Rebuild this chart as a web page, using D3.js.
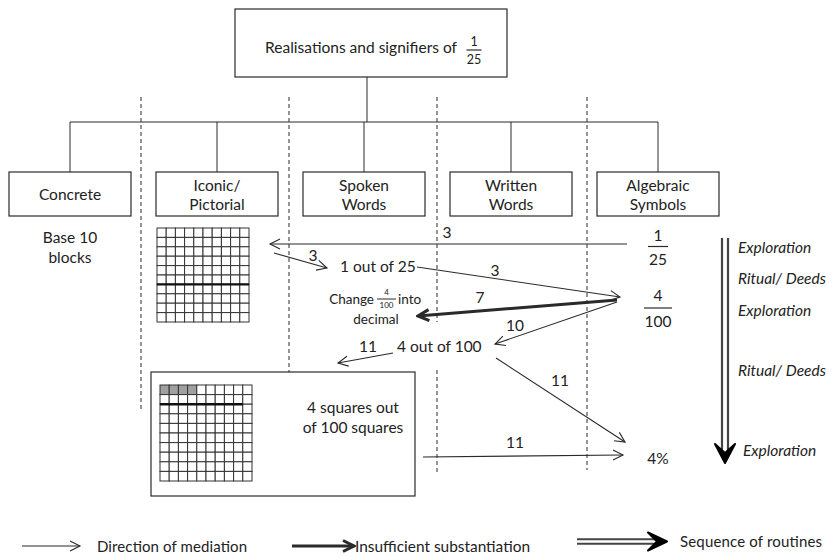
<!DOCTYPE html>
<html><head><meta charset="utf-8">
<script src="https://cdn.jsdelivr.net/npm/d3@7"></script>
<style>
html,body{margin:0;padding:0;background:#fff}
svg{display:block}
text{font-family:Lato,"Open Sans",sans-serif;fill:#222}
</style>
</head><body>
<svg id="c" width="833" height="557"></svg>
<script>
// ---------- data ----------
const title = "Realisations and signifiers of";
const titleFraction = ["1", "25"];
const columns = ["Concrete", "Iconic/\nPictorial", "Spoken\nWords", "Written\nWords", "Algebraic\nSymbols"];
const concreteNote = ["Base 10", "blocks"];
const routines = ["Exploration", "Ritual/ Deeds", "Exploration", "Ritual/ Deeds", "Exploration"];
const mediationLabels = ["3", "3", "3", "7", "10", "11", "11", "11"];
const mediationKinds = ["thin", "thin", "thin", "thick", "thin", "thin", "thin", "thin"];
const fractionsAlg = [["1", "25"], ["4", "100"]];
const wordsSpoken = ["1 out of 25", "4 out of 100"];
const changeText = ["Change", "4", "100", "into", "decimal"];
const squaresText = ["4 squares out", "of 100 squares"];
const percentText = "4%";
const gridSize = 10;
const shadedSquares = 4;
const legendLabels = ["Direction of mediation", "Insufficient substantiation", "Sequence of routines"];

// ---------- layout ----------
const svg = d3.select("#c");
const W = 833, H = 557;
const ink = "#2a2a2a";
const x = d3.scalePoint().domain(columns).range([70, 658]);
const step = x.step();
const y = d3.scaleLinear().domain([0, H]).range([0, H]);
const boxW = 122, boxTop = y(172), boxBot = y(216);

const defs = svg.append("defs");
function marker(id, path, w, sw, fill) {
  defs.append("marker").attr("id", id).attr("markerUnits", "userSpaceOnUse")
    .attr("viewBox", `-2 -2 ${w + 4} ${w + 4}`).attr("refX", w).attr("refY", w / 2)
    .attr("markerWidth", w + 4).attr("markerHeight", w + 4).attr("orient", "auto")
    .append("path").attr("d", path).attr("fill", fill).attr("stroke", ink)
    .attr("stroke-width", sw).attr("stroke-linejoin", "miter");
}
marker("thin", "M0,0 L10,5 L0,10", 10, 1.1, "none");
marker("thick", "M0,0 L11,5.5 L0,11", 11, 3, "none");

// title box
svg.append("rect").attr("x", 235).attr("y", y(9)).attr("width", 272).attr("height", y(77) - y(9))
  .attr("fill", "none").attr("stroke", ink).attr("stroke-width", 1.2);
svg.append("text").attr("x", 265).attr("y", y(47)).attr("textLength", 192)
  .attr("dominant-baseline", "central").attr("font-size", 15.5).text(title);
function fraction(cx, cy, num, den, size, lw, gap) {
  svg.append("text").attr("x", cx).attr("y", cy - gap).attr("text-anchor", "middle")
    .attr("dominant-baseline", "central").attr("font-size", size).text(num);
  svg.append("line").attr("x1", cx - lw / 2).attr("x2", cx + lw / 2).attr("y1", cy).attr("y2", cy)
    .attr("stroke", ink).attr("stroke-width", 1.2);
  svg.append("text").attr("x", cx).attr("y", cy + gap).attr("text-anchor", "middle")
    .attr("dominant-baseline", "central").attr("font-size", size).text(den);
}
fraction(474, y(50), titleFraction[0], titleFraction[1], 12.5, 15, 9);

// tree connectors
const treeY = y(122);
svg.append("line").attr("x1", 367).attr("x2", 367).attr("y1", y(77)).attr("y2", treeY).attr("stroke", ink);
svg.append("line").attr("x1", x(columns[0])).attr("x2", x(columns[4])).attr("y1", treeY).attr("y2", treeY).attr("stroke", ink);
columns.forEach(c => {
  svg.append("line").attr("x1", x(c)).attr("x2", x(c)).attr("y1", treeY).attr("y2", boxTop).attr("stroke", ink);
});

// column boxes
columns.forEach(c => {
  const cx = x(c);
  svg.append("rect").attr("x", cx - boxW / 2).attr("y", boxTop).attr("width", boxW).attr("height", boxBot - boxTop)
    .attr("fill", "#fff").attr("stroke", ink).attr("stroke-width", 1.2);
  const lines = c.split("\n");
  lines.forEach((l, i) => {
    svg.append("text").attr("x", cx).attr("y", (boxTop + boxBot) / 2 + (i - (lines.length - 1) / 2) * 19)
      .attr("text-anchor", "middle").attr("dominant-baseline", "central").attr("font-size", 15.5).text(l);
  });
});

// dashed separators
const sepX = columns.slice(0, 4).map((c, i) => x(c) + step / 2 + [-2.5, -1.5, -0.5, 2.5][i]);
const sepRanges = [[[97, 410]], [[97, 372]], [[97, 322], [370, 473]], [[97, 470]]];
sepX.forEach((sx, i) => {
  sepRanges[i].forEach(r => {
    svg.append("line").attr("x1", sx).attr("x2", sx).attr("y1", y(r[0])).attr("y2", y(r[1]))
      .attr("stroke", ink).attr("stroke-width", 1).attr("stroke-dasharray", "4,3");
  });
});

// concrete note
concreteNote.forEach((t, i) => {
  svg.append("text").attr("x", x(columns[0])).attr("y", y(237 + i * 20)).attr("text-anchor", "middle")
    .attr("dominant-baseline", "central").attr("font-size", 15.5).text(t);
});

// grids
function grid(gx, gy, cw, ch, thick) {
  const g = svg.append("g");
  const cells = d3.range(gridSize * gridSize).map(i => ({r: Math.floor(i / gridSize), c: i % gridSize}));
  g.selectAll("rect").data(cells).enter().append("rect")
    .attr("x", d => gx + d.c * cw).attr("y", d => gy + d.r * ch).attr("width", cw).attr("height", ch)
    .attr("fill", d => (thick.shade && d.r === 0 && d.c < shadedSquares) ? "#a0a0a0" : "#fff")
    .attr("stroke", "#333").attr("stroke-width", 1);
  g.append("line").attr("x1", gx).attr("x2", gx + thick.cols * cw)
    .attr("y1", gy + thick.row * ch).attr("y2", gy + thick.row * ch).attr("stroke", "#111").attr("stroke-width", 2.4);
}
grid(157, y(228), 9.2, 9.4, {row: 6, cols: 10, shade: false});

// bottom box
svg.append("rect").attr("x", 151).attr("y", y(372)).attr("width", 264).attr("height", y(496) - y(372))
  .attr("fill", "none").attr("stroke", ink).attr("stroke-width", 1.2);
grid(160, y(385), 9.2, 9.6, {row: 2, cols: 9, shade: true});
squaresText.forEach((t, i) => {
  svg.append("text").attr("x", 353).attr("y", y(407 + i * 20)).attr("text-anchor", "middle")
    .attr("dominant-baseline", "central").attr("font-size", 15.5).text(t);
});

// algebraic symbols
const alg = x(columns[4]);
fraction(alg, y(246.5), fractionsAlg[0][0], fractionsAlg[0][1], 15.5, 20, 12);
fraction(alg, y(308), fractionsAlg[1][0], fractionsAlg[1][1], 15.5, 28, 13);
svg.append("text").attr("x", alg).attr("y", y(458)).attr("text-anchor", "middle")
  .attr("dominant-baseline", "central").attr("font-size", 15.5).text(percentText);

// spoken words
svg.append("text").attr("x", 340).attr("y", y(266)).attr("dominant-baseline", "central").attr("font-size", 15.5).text(wordsSpoken[0]);
svg.append("text").attr("x", 397).attr("y", y(346)).attr("dominant-baseline", "central").attr("font-size", 15.5).text(wordsSpoken[1]);

// change into decimal
svg.append("text").attr("x", 374).attr("y", y(299)).attr("text-anchor", "end").attr("dominant-baseline", "central").attr("font-size", 13.5).text(changeText[0]);
svg.append("text").attr("x", 386.5).attr("y", y(292)).attr("text-anchor", "middle").attr("dominant-baseline", "central").attr("font-size", 8).text(changeText[1]);
svg.append("line").attr("x1", 377).attr("x2", 396).attr("y1", y(299)).attr("y2", y(299)).attr("stroke", ink).attr("stroke-width", 1);
svg.append("text").attr("x", 386.5).attr("y", y(305)).attr("text-anchor", "middle").attr("dominant-baseline", "central").attr("font-size", 8).text(changeText[2]);
svg.append("text").attr("x", 398).attr("y", y(299)).attr("dominant-baseline", "central").attr("font-size", 13.5).text(changeText[3]);
svg.append("text").attr("x", 376).attr("y", y(319)).attr("text-anchor", "middle").attr("dominant-baseline", "central").attr("font-size", 13.5).text(changeText[4]);

// mediation arrows
const arrowGeom = [
  {a: [627, 244], b: [270, 244], l: [447, 232]},
  {a: [274, 253], b: [327, 268], l: [313, 255]},
  {a: [417, 267], b: [620, 297], l: [495, 270]},
  {a: [617, 300], b: [418, 316], l: [480, 297]},
  {a: [617, 302], b: [495, 344], l: [515, 325]},
  {a: [393, 353], b: [338, 363], l: [368, 346]},
  {a: [496, 358], b: [625, 442], l: [560, 380]},
  {a: [423, 457], b: [623, 455], l: [515, 442]}
];
const arrows = mediationLabels.map((lab, i) => ({label: lab, kind: mediationKinds[i], ...arrowGeom[i]}));
svg.selectAll(".arr").data(arrows).enter().append("line").attr("class", "arr")
  .attr("x1", d => d.a[0]).attr("y1", d => y(d.a[1])).attr("x2", d => d.b[0]).attr("y2", d => y(d.b[1]))
  .attr("stroke", ink).attr("stroke-width", d => d.kind === "thick" ? 3 : 1.1)
  .attr("marker-end", d => `url(#${d.kind})`);
svg.selectAll(".alab").data(arrows).enter().append("text").attr("class", "alab")
  .attr("x", d => d.l[0]).attr("y", d => y(d.l[1])).attr("text-anchor", "middle")
  .attr("dominant-baseline", "central").attr("font-size", 15.5).text(d => d.label);

// sequence of routines (double arrow)
function doubleArrow(g, xc, y1, y2, horiz) {
  if (!horiz) {
    g.append("line").attr("x1", xc - 3).attr("x2", xc - 3).attr("y1", y1).attr("y2", y2 - 8).attr("stroke", "#444").attr("stroke-width", 2.2);
    g.append("line").attr("x1", xc + 3).attr("x2", xc + 3).attr("y1", y1).attr("y2", y2 - 8).attr("stroke", "#444").attr("stroke-width", 2.2);
    g.append("path").attr("d", `M${xc - 10},${y2 - 19} L${xc},${y2} L${xc + 10},${y2 - 19} L${xc},${y2 - 10} Z`)
      .attr("fill", "#000").attr("stroke", "#000").attr("stroke-width", 2).attr("stroke-linejoin", "round");
  } else {
    g.append("line").attr("x1", y1).attr("x2", y2 - 8).attr("y1", xc - 2.2).attr("y2", xc - 2.2).attr("stroke", "#444").attr("stroke-width", 2);
    g.append("line").attr("x1", y1).attr("x2", y2 - 8).attr("y1", xc + 2.2).attr("y2", xc + 2.2).attr("stroke", "#444").attr("stroke-width", 2);
    g.append("path").attr("d", `M${y2 - 19},${xc - 9} L${y2},${xc} L${y2 - 19},${xc + 9} L${y2 - 10},${xc} Z`)
      .attr("fill", "#000").attr("stroke", "#000").attr("stroke-width", 2).attr("stroke-linejoin", "round");
  }
}
doubleArrow(svg, 725, y(238), y(463), false);
const routineY = [247, 278, 310, 370, 450];
const routineX = [738, 738, 738, 738, 743];
svg.selectAll(".rt").data(routines).enter().append("text").attr("class", "rt")
  .attr("x", (d, i) => routineX[i]).attr("y", (d, i) => y(routineY[i]))
  .attr("dominant-baseline", "central").attr("font-size", 15.5).attr("font-style", "italic").text(d => d);

// legend
const lg = svg.append("g");
lg.append("line").attr("x1", 22).attr("x2", 80).attr("y1", 546).attr("y2", 546).attr("stroke", ink).attr("stroke-width", 1.1).attr("marker-end", "url(#thin)");
lg.append("text").attr("x", 97).attr("y", 546).attr("dominant-baseline", "central").attr("font-size", 15).attr("textLength", 150).text(legendLabels[0]);
lg.append("line").attr("x1", 292).attr("x2", 354).attr("y1", 546).attr("y2", 546).attr("stroke", ink).attr("stroke-width", 3).attr("marker-end", "url(#thick)");
lg.append("text").attr("x", 355).attr("y", 546).attr("dominant-baseline", "central").attr("font-size", 15).attr("textLength", 175).attr("lengthAdjust", "spacingAndGlyphs").text(legendLabels[1]);
doubleArrow(lg, 541.5, 577, 667, true);
lg.append("text").attr("x", 680).attr("y", 541).attr("dominant-baseline", "central").attr("font-size", 15).attr("textLength", 142).text(legendLabels[2]);
</script>
</body></html>
